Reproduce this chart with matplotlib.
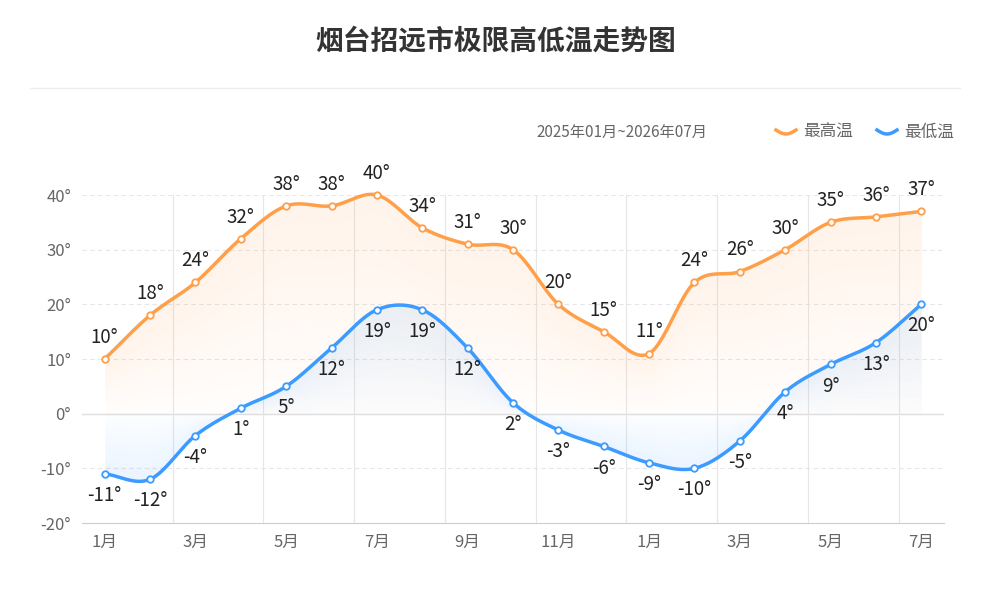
import numpy as np
import matplotlib
matplotlib.use("Agg")
import matplotlib.pyplot as plt
from matplotlib.lines import Line2D

plt.rcParams['font.family'] = ['Noto Sans CJK SC', 'DejaVu Sans']

months = ["1月","2月","3月","4月","5月","6月","7月","8月","9月","10月","11月","12月",
          "1月","2月","3月","4月","5月","6月","7月"]
high = [10,18,24,32,38,38,40,34,31,30,20,15,11,24,26,30,35,36,37]
low = [-11,-12,-4,1,5,12,19,19,12,2,-3,-6,-9,-10,-5,4,9,13,20]

def smooth(y, n=20):
    y = np.asarray(y, float)
    p = np.concatenate([[2*y[0]-y[1]], y, [2*y[-1]-y[-2]]])
    xs, ys = [], []
    for i in range(len(y)-1):
        p0, p1, p2, p3 = p[i], p[i+1], p[i+2], p[i+3]
        t = np.linspace(0, 1, n, endpoint=False)
        v = 0.5*((2*p1) + (-p0+p2)*t + (2*p0-5*p1+4*p2-p3)*t**2 + (-p0+3*p1-3*p2+p3)*t**3)
        xs.append(i+t); ys.append(v)
    xs.append([len(y)-1]); ys.append([y[-1]])
    return np.concatenate(xs), np.concatenate(ys)

fig = plt.figure(figsize=(9.92, 6.07), dpi=100)
ax = fig.add_axes([82/992, 1-523/607, (944-82)/992, (523-195)/607])
orange = '#FF9F4A'
blue = '#3B9BFF'
x = np.arange(len(high))
hx, hy = smooth(high)
lx, ly = smooth(low)

for k in range(12):
    f = k/12
    ax.fill_between(hx, hy - hy*f, hy - hy*(f+1/12), color=orange, alpha=0.10*(1-f)+0.01, lw=0)
    ax.fill_between(lx, ly - ly*f, ly - ly*(f+1/12), color=blue, alpha=0.09*(1-f)+0.01, lw=0)

ax.plot(hx, hy, color=orange, lw=2.5, zorder=3, clip_on=False)
ax.plot(lx, ly, color=blue, lw=2.5, zorder=3, clip_on=False)
ax.scatter(x, high, s=22, facecolor='white', edgecolor=orange, lw=1.3, zorder=4, clip_on=False)
ax.scatter(x, low, s=22, facecolor='white', edgecolor=blue, lw=1.3, zorder=4, clip_on=False)

for i, v in enumerate(high):
    ax.annotate(f"{v}°", (i, v), xytext=(0, 8), textcoords='offset points',
                ha='center', va='bottom', fontsize=13.5, color='#222222')
for i, v in enumerate(low):
    ax.annotate(f"{v}°", (i, v), xytext=(0, -8), textcoords='offset points',
                ha='center', va='top', fontsize=13.5, color='#222222')

ax.set_xlim(-0.5, 18.5)
ax.set_ylim(-20, 40)
ax.set_yticks(range(-20, 41, 10))
ax.set_yticklabels([f"{v}°" for v in range(-20, 41, 10)], fontsize=12, color='#666666')
ax.set_xticks(x[::2])
ax.set_xticklabels(months[::2], fontsize=12, color='#666666')
ax.tick_params(length=0, pad=8)
for yv in range(-10, 41, 10):
    ax.axhline(yv, color='#e6e6e6', lw=0.8, ls=(0, (4, 3)), zorder=0)
ax.axhline(0, color='#e0e0e0', lw=1, zorder=0)
for xv in np.arange(1.5, 18, 2):
    ax.axvline(xv, color='#e6e6e6', lw=0.8, zorder=0)
for s in ['top', 'right', 'left']:
    ax.spines[s].set_visible(False)
ax.spines['bottom'].set_color('#cccccc')

fig.text(0.5, 1-42/607, "烟台招远市极限高低温走势图", ha='center', va='center',
         fontsize=20, fontweight='bold', color='#333333')
fig.add_artist(Line2D([30/992, 960/992], [1-88/607]*2, color='#eeeeee', lw=1))
fig.text(622/992, 1-132/607, "2025年01月~2026年07月", ha='center', va='center', fontsize=11, color='#666666')
for xs, c, lab in [(776, orange, "最高温"), (877, blue, "最低温")]:
    t = np.linspace(0, 1, 20)
    fig.add_artist(Line2D((xs + 20*t)/992, (1-(132 + 4*np.sin(np.pi*t) - 2)/607), color=c, lw=2.5))
    fig.text((xs+27)/992, 1-132/607, lab, ha='left', va='center', fontsize=12, color='#666666')

fig.savefig("out.png", dpi=100, facecolor='white')
